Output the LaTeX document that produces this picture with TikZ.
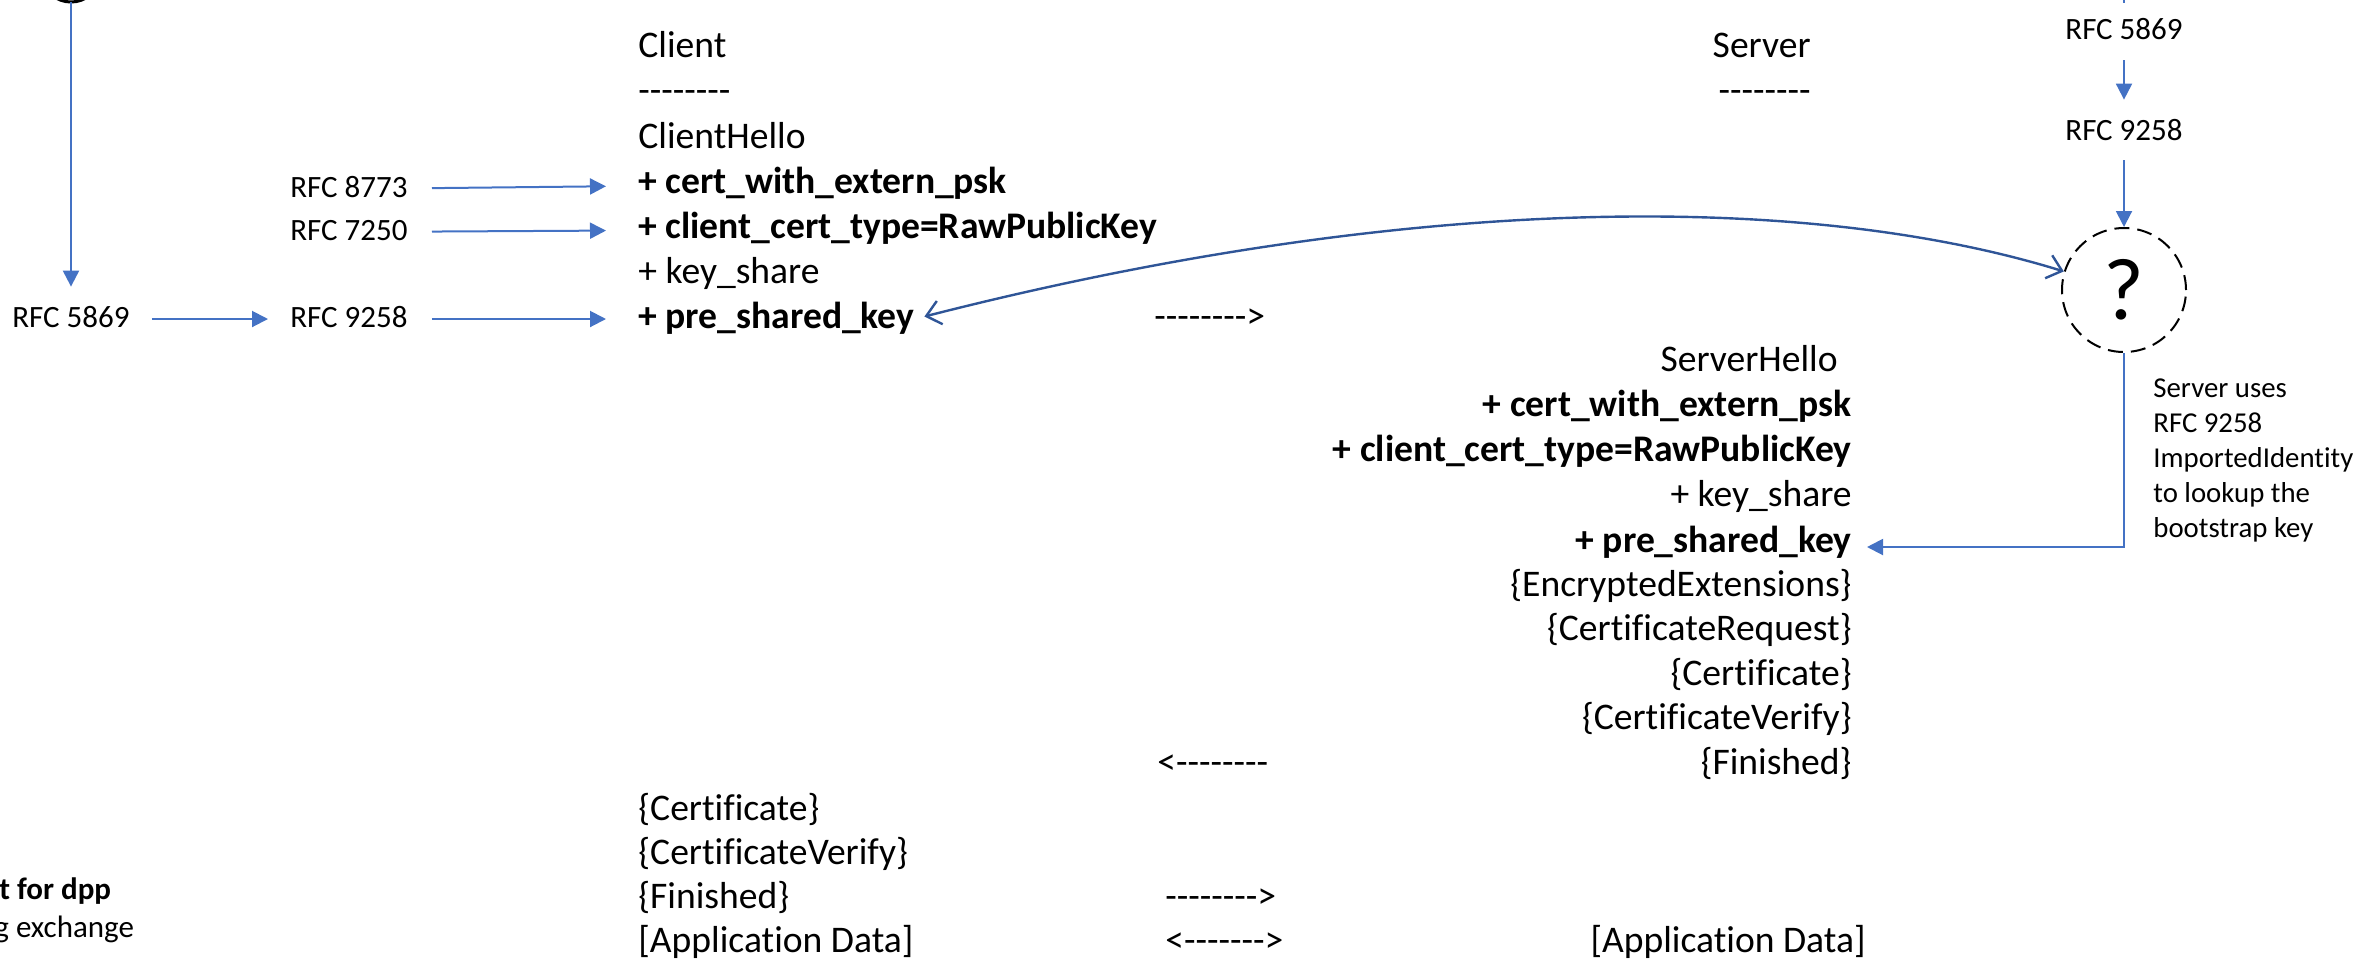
\documentclass[tikz,border=0pt]{standalone}
\usepackage{fontspec}
\setmainfont{Carlito}[Ligatures={TeXOff,CommonOff}]
\usetikzlibrary{arrows.meta, calc}

\definecolor{linkblue}{HTML}{4472C4}
\definecolor{curveblue}{HTML}{2F5597}

\tikzset{
  msg/.style={inner sep=0pt, font=\fontsize{18.8}{23}\selectfont, text height=13.5pt, text depth=4pt},
  rfc/.style={inner sep=0pt, font=\fontsize{15.5}{19}\selectfont, text height=11pt, text depth=3pt},
  note/.style={inner sep=0pt, font=\fontsize{14.4}{17.5}\selectfont, align=left},
  link/.style={draw=linkblue, line width=1pt, -{Triangle[length=8pt, width=8pt]}},
  lookup/.style={draw=curveblue, line width=1.2pt,
    {Straight Barb[length=7pt, width=12pt]}-{Straight Barb[length=7pt, width=12pt]}},
  unknown/.style={circle, draw, line width=1pt, dash pattern=on 7.5pt off 4pt,
    minimum size=62pt, inner sep=0pt, font=\fontsize{44}{50}\selectfont}
}

\begin{document}
\begin{tikzpicture}[x=0.5pt, y=-0.5pt]
        \useasboundingbox (0,0) rectangle (2357,966);

        \coordinate (src) at (71,2);
        \coordinate (topr) at (2124,-20);
        \coordinate (toprend) at (2124,3);

        % client column
        \node[msg, anchor=west] (client) at (638,48) {Client};
        \node[msg, anchor=west] (cdash) at (638,93) {--------};
        \node[msg, anchor=west] (chello) at (638,139) {ClientHello};
        \node[msg, anchor=west] (ccert) at (638,184) {\textbf{+ cert\_with\_extern\_psk}};
        \node[msg, anchor=west] (ctype) at (638,229) {\textbf{+ client\_cert\_type=RawPublicKey}};
        \node[msg, anchor=west] (cshare) at (638,274) {+ key\_share};
        \node[msg, anchor=west] (cpsk) at (638,319) {\textbf{+ pre\_shared\_key}};
        \node[msg, anchor=west] (ccrt) at (638,811) {\{Certificate\}};
        \node[msg, anchor=west] (ccv) at (638,855) {\{CertificateVerify\}};
        \node[msg, anchor=west] (cfin) at (638,899) {\{Finished\}};
        \node[msg, anchor=west] (capp) at (638,943) {[Application Data]};

        % server column
        \node[msg, anchor=east] (server) at (1811,48) {Server};
        \node[msg, anchor=east] (sdash) at (1811,93) {--------};
        \node[msg, anchor=east] (shello) at (1838,362) {ServerHello};
        \node[msg, anchor=east] (scert) at (1852,407) {\textbf{+ cert\_with\_extern\_psk}};
        \node[msg, anchor=east] (stype) at (1852,452) {\textbf{+ client\_cert\_type=RawPublicKey}};
        \node[msg, anchor=east] (sshare) at (1852,497) {+ key\_share};
        \node[msg, anchor=east] (spsk) at (1852,543) {\textbf{+ pre\_shared\_key}};
        \node[msg, anchor=east] (sext) at (1852,587) {\{EncryptedExtensions\}};
        \node[msg, anchor=east] (sreq) at (1852,631) {\{CertificateRequest\}};
        \node[msg, anchor=east] (scrt) at (1852,676) {\{Certificate\}};
        \node[msg, anchor=east] (scv) at (1852,720) {\{CertificateVerify\}};
        \node[msg, anchor=east] (sfin) at (1852,765) {\{Finished\}};
        \node[msg, anchor=east] (sapp) at (1866,943) {[Application Data]};

        % flow marks
        \node[msg, anchor=west] (go1) at (1154,319) {-------->};
        \node[msg, anchor=west] (back1) at (1157,765) {<--------};
        \node[msg, anchor=west] (go2) at (1165,899) {-------->};
        \node[msg, anchor=west] (both) at (1165,943) {<------->};

        % rfc labels
        \node[rfc] (r8773) at (349,189) {RFC 8773};
        \node[rfc] (r7250) at (349,232) {RFC 7250};
        \node[rfc] (r9258) at (349,319) {RFC 9258};
        \node[rfc] (r5869) at (71,319) {RFC 5869};
        \node[rfc] (t5869) at (2124,31) {RFC 5869};
        \node[rfc] (t9258) at (2124,132) {RFC 9258};

        \node[unknown] (q) at (2124,290) {?};
        \node[note, anchor=north west] (uses) at (2153,378)
          {Server uses\\RFC 9258\\ImportedIdentity\\to lookup the\\bootstrap key};

        \node[rfc, font=\fontsize{15.5}{19}\selectfont\bfseries, anchor=west] (dpp) at (-1,891) {t for dpp};
        \node[rfc, anchor=west] (exch) at (-6,929) {g exchange};

        \draw[line width=1.5pt] (71,-20) ellipse (26 and 22);
        \draw[draw=linkblue, line width=1pt] (topr) -- (toprend);

        \draw[link, shorten >=9pt] (src) -- (r5869);
        \draw[link, shorten <=11pt, shorten >=11pt] (r5869) -- (r9258);
        \draw[link, shorten <=12pt, shorten >=16pt] (r8773) -- (ccert);
        \draw[link, shorten <=12pt, shorten >=16pt] (r7250) -- (ctype);
        \draw[link, shorten <=12pt, shorten >=16pt] (r9258) -- (cpsk);
        \draw[link, shorten <=7.5pt, shorten >=9pt] (t5869) -- (t9258);
        \draw[link, shorten <=7pt] (t9258) -- (q);
        \draw[link, shorten >=7.5pt] (q.south) |- ([yshift=-2pt]spsk.east);

        \draw[lookup, shorten <=5pt] (cpsk.east) .. controls (1400,195) and (1800,190) .. (q);
\end{tikzpicture}
\end{document}
